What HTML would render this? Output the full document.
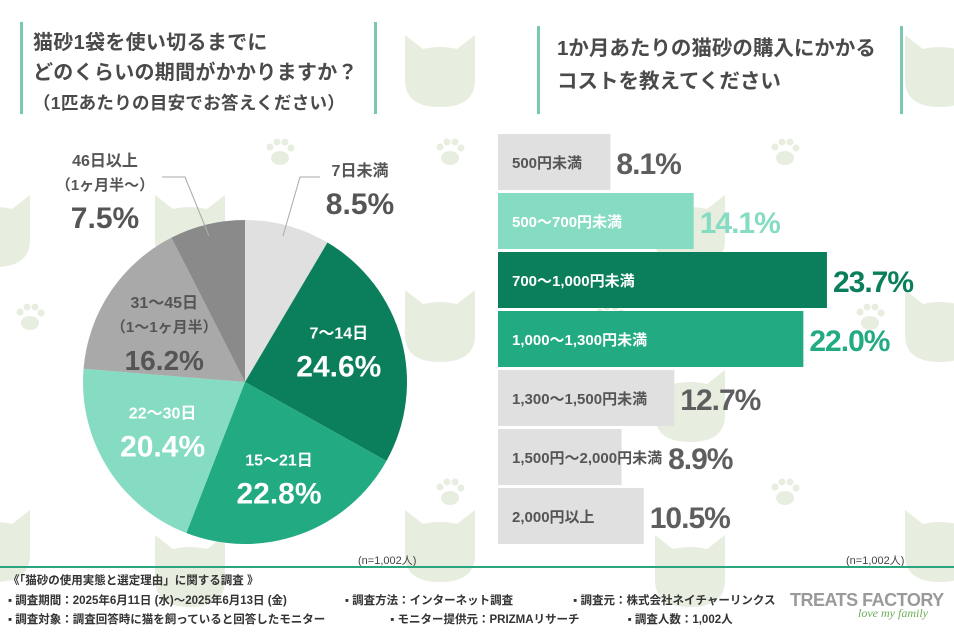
<!DOCTYPE html>
<html><head><meta charset="utf-8"><style>
body{margin:0;width:954px;height:636px;overflow:hidden;background:#fff;font-family:"Liberation Sans","Noto Sans CJK JP",sans-serif;}
#root{position:relative;width:954px;height:636px;}
.t{position:absolute;font-weight:bold;color:#4a4a4a;white-space:nowrap;}
</style></head><body><div id="root">
<svg width="954" height="636" style="position:absolute;left:0;top:0">
<defs>
<g id="cat"><path d="M0 0 L18 14 Q35 10 52 14 L70 0 L70 45 Q70 72 35 72 Q0 72 0 45 Z" fill="#e7eee0"/></g>
<g id="paw" fill="#e7eee0"><ellipse cx="0" cy="8" rx="9" ry="7"/><circle cx="-10" cy="-3" r="3.5"/><circle cx="-3" cy="-8" r="3.5"/><circle cx="5" cy="-8" r="3.5"/><circle cx="11" cy="-2" r="3.5"/></g>
</defs>
<use href="#cat" x="405" y="35"/><use href="#cat" x="905" y="35"/>
<use href="#cat" x="155" y="195"/><use href="#cat" x="655" y="195"/><use href="#cat" x="-40" y="195"/>
<use href="#cat" x="405" y="290"/><use href="#cat" x="905" y="290"/>
<use href="#cat" x="655" y="370"/><use href="#cat" x="155" y="370"/>
<use href="#cat" x="405" y="510"/><use href="#cat" x="905" y="510"/><use href="#cat" x="155" y="535"/><use href="#cat" x="655" y="535"/><use href="#cat" x="-40" y="510"/>
<use href="#paw" x="450" y="150"/><use href="#paw" x="785" y="150"/><use href="#paw" x="30" y="315"/><use href="#paw" x="870" y="315"/><use href="#paw" x="450" y="490"/><use href="#paw" x="785" y="490"/><use href="#paw" x="280" y="150"/><use href="#paw" x="610" y="315"/>
</svg>

<div style="position:absolute;left:20px;top:22px;width:3px;height:92px;background:#7cc7b2"></div>
<div style="position:absolute;left:374px;top:22px;width:3px;height:92px;background:#7cc7b2"></div>
<div class="t" style="left:33px;top:28px;font-size:20px;line-height:30px;letter-spacing:0.3px">猫砂1袋を使い切るまでに<br>どのくらいの期間がかかりますか？<br><span style="font-size:17.5px">（1匹あたりの目安でお答えください）</span></div>
<div style="position:absolute;left:537px;top:26px;width:3px;height:88px;background:#7cc7b2"></div>
<div style="position:absolute;left:900px;top:26px;width:3px;height:88px;background:#7cc7b2"></div>
<div class="t" style="left:557px;top:32px;font-size:20.5px;line-height:33px">1か月あたりの猫砂の購入にかかる<br>コストを教えてください</div>

<svg id="pie" width="954" height="636" style="position:absolute;left:0;top:0"></svg>
<svg id="bars" width="954" height="636" style="position:absolute;left:0;top:0"></svg>

<div class="t" style="left:358px;top:552px;font-size:11px;font-weight:normal;color:#444">(n=1,002人)</div>
<div class="t" style="left:846px;top:552px;font-size:11px;font-weight:normal;color:#444">(n=1,002人)</div>
<div style="position:absolute;left:0;top:566px;width:954px;height:2px;background:#2aa57e"></div>
<div class="t" style="left:8px;top:572px;font-size:11.5px;line-height:19.5px;color:#333">《「猫砂の使用実態と選定理由」に関する調査 》<br>▪ 調査期間：2025年6月11日 (水)～2025年6月13日 (金)<span style="display:inline-block;width:58px"></span>▪ 調査方法：インターネット調査<span style="display:inline-block;width:60px"></span>▪ 調査元：株式会社ネイチャーリンクス<br>▪ 調査対象：調査回答時に猫を飼っていると回答したモニター<span style="display:inline-block;width:65px"></span>▪ モニター提供元：PRIZMAリサーチ<span style="display:inline-block;width:48px"></span>▪ 調査人数：1,002人</div>
<div class="t" style="left:790px;top:590px;font-size:18px;color:#9a9a9a;letter-spacing:-0.5px">TREATS FACTORY</div>
<div class="t" style="left:858px;top:606px;font-size:12px;font-weight:normal;font-style:italic;color:#6cae5a;font-family:'Liberation Serif',serif">love my family</div>
</div>
<script>
const pieCats=["7日未満","7〜14日","15〜21日","22〜30日","31〜45日","46日以上"];
const pieVals=[8.5,24.6,22.8,20.4,16.2,7.5];
const pieCols=["#e0e0e0","#0b7e5b","#22ab82","#86dcc2","#a9a9a9","#8a8a8a"];
const barCats=["500円未満","500〜700円未満","700〜1,000円未満","1,000〜1,300円未満","1,300〜1,500円未満","1,500円〜2,000円未満","2,000円以上"];
const barVals=[8.1,14.1,23.7,22.0,12.7,8.9,10.5];
const barCols=["#e0e0e0","#86dcc2","#0b7e5b","#22ab82","#e0e0e0","#e0e0e0","#e0e0e0"];
const barValCols=["#5e5e5e","#86dcc2","#0b7e5b","#22ab82","#5e5e5e","#5e5e5e","#5e5e5e"];
const barLabCols=["#555","#fff","#fff","#fff","#555","#555","#555"];
const NS="http://www.w3.org/2000/svg";
function mk(p,tag,a){const e=document.createElementNS(NS,tag);for(const k in a)e.setAttribute(k,a[k]);p.appendChild(e);return e;}
const pie=document.getElementById('pie');
const cx=245,cy=382,R=162;
const tot=pieVals.reduce((a,b)=>a+b,0);
function pt(f,r){const a=f*2*Math.PI-Math.PI/2;return [cx+r*Math.cos(a),cy+r*Math.sin(a)];}
let acc=0;
const labelSpecs=[
 {r:null,x:360,y:176,sub:null,col:"#555",big:30,dy:0},
 {r:0.6,col:"#fff",big:30,dy:-18},{r:0.62,col:"#fff",big:30,dy:-11},{r:0.6,col:"#fff",big:30,dy:-15},
 {r:0.6,col:"#555",big:28,sub:"（1〜1ヶ月半）",dy:-20},
 {r:null,x:105,y:166,sub:"（1ヶ月半〜）",col:"#555",big:30,dy:0}];
pieVals.forEach((v,i)=>{
 const f0=acc/tot,f1=(acc+v)/tot;acc+=v;
 const [x0,y0]=pt(f0,R),[x1,y1]=pt(f1,R);
 const p=mk(pie,'path',{d:`M${cx},${cy} L${x0},${y0} A${R},${R} 0 ${f1-f0>0.5?1:0} 1 ${x1},${y1} Z`,fill:pieCols[i]});
 
 
 const s=labelSpecs[i];let lx,ly;
 if(s.r){[lx,ly]=pt((f0+f1)/2,R*s.r);ly+=s.dy;}else{lx=s.x;ly=s.y;}
 const g=mk(pie,'g',{});
 
 
 mk(g,'text',{x:lx,y:ly,'text-anchor':'middle','font-size':16,'font-weight':'bold',fill:s.col}).textContent=pieCats[i];
 let yy=ly;
 if(s.sub){yy+=24;mk(g,'text',{x:lx,y:yy,'text-anchor':'middle','font-size':15,'font-weight':'bold',fill:s.col}).textContent=s.sub;}
 mk(g,'text',{x:lx,y:yy+38,'text-anchor':'middle','font-size':s.big,'font-weight':'bold',fill:s.col}).textContent=v.toFixed(1)+'%';
});
mk(pie,'polyline',{points:"283,236 300,177 320,177",fill:"none",stroke:"#aaa","stroke-width":1});
mk(pie,'polyline',{points:"209,236 185,177 162,177",fill:"none",stroke:"#aaa","stroke-width":1});
const bars=document.getElementById('bars');
const bx=498,scale=13.88,by0=134,bh=56,gap=59;
barVals.forEach((v,i)=>{
 const y=by0+i*gap,w=v*scale;
 const r=mk(bars,'rect',{x:bx,y:y,width:w,height:bh,fill:barCols[i]});
 
 
 const t=mk(bars,'text',{x:bx+14,y:y+bh/2+6,'font-size':15,'font-weight':'bold',fill:barLabCols[i]});
 t.textContent=barCats[i];
 
 
 const tw=t.getComputedTextLength();
 const vx=Math.max(bx+w+6,bx+14+tw+6);
 const vt=mk(bars,'text',{x:vx,y:y+bh/2+12,'font-size':30,'font-weight':'bold',fill:barValCols[i],'letter-spacing':-1});
 vt.textContent=v.toFixed(1)+'%';
 
 
});
</script>
</body></html>
